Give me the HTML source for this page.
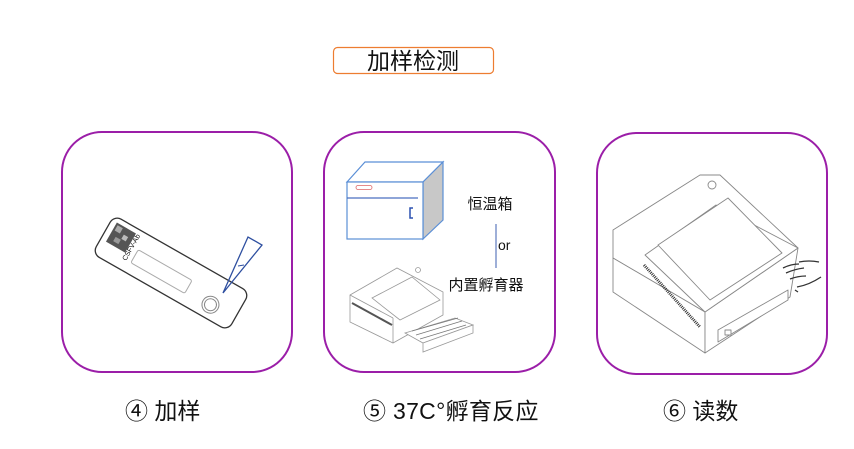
<!DOCTYPE html>
<html><head><meta charset="utf-8"><style>
html,body{margin:0;padding:0;background:#fff;width:854px;height:449px;overflow:hidden}
svg{display:block}
text{font-family:"Liberation Sans","Noto Sans CJK SC",sans-serif;fill:#111}
</style></head><body>
<svg width="854" height="449" viewBox="0 0 854 449" xmlns="http://www.w3.org/2000/svg">
<!-- title -->
<rect x="333.5" y="47.5" width="160" height="26" rx="4" fill="#fff" stroke="#ed7d31" stroke-width="1.2"/>
<text x="413" y="69" font-size="23" text-anchor="middle">加样检测</text>

<!-- panels -->
<rect x="62" y="132" width="230" height="240" rx="40" fill="#fff" stroke="#9b1ea8" stroke-width="2"/>
<rect x="324" y="132" width="231" height="240" rx="40" fill="#fff" stroke="#9b1ea8" stroke-width="2"/>
<rect x="597" y="133" width="230" height="241" rx="40" fill="#fff" stroke="#9b1ea8" stroke-width="2"/>

<!-- panel 1: test strip -->
<g transform="translate(171,273) rotate(29.7)">
 <rect x="-78" y="-22" width="156" height="44" rx="8" fill="#fff" stroke="#333" stroke-width="1.3"/>
 <rect x="-72" y="-17" width="22" height="22" fill="#555"/>
 <rect x="-70" y="-15" width="6" height="6" fill="#aaa"/><rect x="-60" y="-10" width="5" height="5" fill="#bbb"/><rect x="-66" y="-4" width="6" height="5" fill="#999"/>
 <text x="-45" y="12" font-size="7" fill="#888" transform="rotate(-90 -45 12)">CSFV-Ab</text>
 <rect x="-40" y="-4" width="62" height="15" rx="2" fill="none" stroke="#aaa" stroke-width="1"/>
 <circle cx="50" cy="8" r="8.5" fill="none" stroke="#888" stroke-width="1"/>
 <circle cx="50" cy="8" r="6" fill="none" stroke="#888" stroke-width="1"/>
</g>
<polygon points="223,293 248,237 262,245" fill="none" stroke="#2e4fa0" stroke-width="1.3"/>
<line x1="238" y1="266" x2="244" y2="265" stroke="#2e4fa0" stroke-width="1"/>

<!-- panel 2: incubator -->
<polygon points="347,182 365,162 443,162 423,182" fill="#fff" stroke="#5b8fd6" stroke-width="1.2"/>
<polygon points="423,182 443,162 443,220 423,239" fill="#c8c8c8" stroke="#5b8fd6" stroke-width="1.2"/>
<rect x="347" y="182" width="76" height="57" fill="#fff" stroke="#5b8fd6" stroke-width="1.2"/>
<line x1="347" y1="198" x2="418" y2="198" stroke="#4a6fc0" stroke-width="1.2"/>
<rect x="356" y="185.5" width="16" height="4" rx="2" fill="none" stroke="#d66" stroke-width="0.8"/>
<path d="M413,208 L410,208 L410,218 L413,218" fill="none" stroke="#2b50b0" stroke-width="1.5"/>
<text x="490" y="209" font-size="15" text-anchor="middle">恒温箱</text>
<line x1="496" y1="224" x2="496" y2="268" stroke="#3c5fb0" stroke-width="1"/>
<text x="498" y="250" font-size="14">or</text>
<text x="486" y="290" font-size="15" text-anchor="middle">内置孵育器</text>
<!-- analyzer with drawer -->
<g fill="#fff" stroke="#999" stroke-width="0.8">
 <polygon points="350,295 397,268 443,292 443,315 393,343 350,322"/>
 <line x1="350" y1="295" x2="393" y2="318"/><line x1="393" y1="318" x2="393" y2="343"/>
 <polygon points="372,298 412,277 440,300 400,320"/>
 <circle cx="418" cy="270" r="2.5"/>
 <polygon points="405,333 455,318 473,325 423,343"/>
 <polygon points="423,343 473,325 473,333 423,352"/>
</g>
<g stroke="#777" stroke-width="0.7">
 <line x1="412" y1="331" x2="458" y2="318"/><line x1="416" y1="335" x2="462" y2="321"/><line x1="420" y1="339" x2="466" y2="325"/>
</g>
<line x1="352" y1="303" x2="392" y2="325" stroke="#555" stroke-width="2"/>

<!-- panel 3: reader -->
<g fill="#fff" stroke="#888" stroke-width="0.9" stroke-linejoin="round">
 <polygon points="613,230 700,175 720,175 798,248 705,312 613,258"/>
 <polygon points="613,258 705,312 705,353 613,292"/>
 <polygon points="705,312 798,248 790,297 705,353"/>
 <polygon points="645,255 716,205 798,248 705,312"/>
 <polygon points="658,245 728,198 782,253 710,300"/>
 <circle cx="712" cy="185" r="4"/>
 <polygon points="718,330 788,290 788,300 718,342"/>
 <rect x="725" y="330" width="6" height="5"/>
</g>
<line x1="644" y1="265" x2="700" y2="327" stroke="#333" stroke-width="3" stroke-dasharray="1 1"/>
<path d="M783,268 q8,-4 16,-4 M786,273 q9,-4 18,-5 M790,279 q8,-3 16,-3 M799,262 q10,-2 20,0 M797,287 q12,-2 24,-10 M795,290 l3,2" fill="none" stroke="#333" stroke-width="1.3"/>

<!-- captions -->
<text x="125" y="419" font-size="23">④ 加样</text>
<text x="363" y="419" font-size="23" letter-spacing="0.3">⑤ 37C°孵育反应</text>
<text x="663" y="419" font-size="23">⑥ 读数</text>
</svg>
</body></html>
